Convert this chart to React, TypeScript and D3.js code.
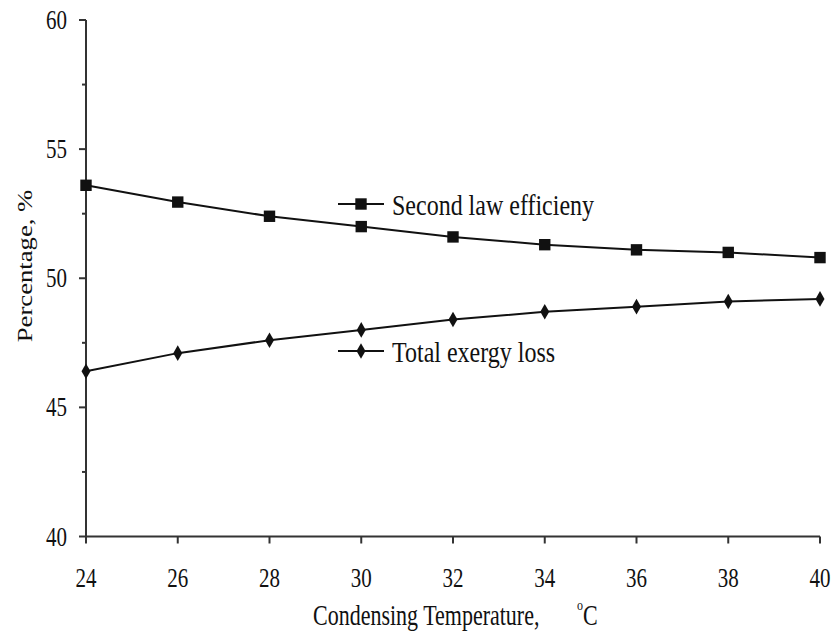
import React, { useEffect, useRef } from 'react';
import * as d3 from 'd3';

const temps = [24, 26, 28, 30, 32, 34, 36, 38, 40];
const secondLaw = [53.6, 52.95, 52.4, 52.0, 51.6, 51.3, 51.1, 51.0, 50.8];
const exergyLoss = [46.4, 47.1, 47.6, 48.0, 48.4, 48.7, 48.9, 49.1, 49.2];
const xTicks = [24, 26, 28, 30, 32, 34, 36, 38, 40];
const yTicks = [40, 45, 50, 55, 60];
const yMinorTicks = [42.5, 47.5, 52.5, 57.5];

const App: React.FC = () => {
    const svgRef = useRef<SVGSVGElement>(null);

    useEffect(() => {
        if (!svgRef.current) return;
        const svg = d3.select(svgRef.current);
        svg.selectAll('*').remove();

        const font = '"Liberation Serif", "Times New Roman", serif';
        const ink = '#111';
        const stretch = 1.3; // the scanned text is taller than it is wide

        // text helper: placed at baseline (tx, ty), stretched vertically
        const label = (tx: number, ty: number, str: string, size: number, anchor = 'start', sy = stretch) =>
            svg.append('text')
                .attr('transform', `translate(${tx}, ${ty}) scale(1, ${sy})`)
                .attr('text-anchor', anchor)
                .attr('font-family', font).attr('font-size', `${size}px`)
                .attr('fill', ink)
                .text(str);

        const x = d3.scaleLinear().domain([24, 40]).range([86, 820]);
        const y = d3.scaleLinear().domain([40, 60]).range([536.5, 20]);

        // axes
        svg.append('line')
            .attr('x1', x(24)).attr('x2', x(24))
            .attr('y1', y(40)).attr('y2', y(60))
            .attr('stroke', '#333').attr('stroke-width', 2);
        svg.append('line')
            .attr('x1', x(24)).attr('x2', x(40))
            .attr('y1', y(40)).attr('y2', y(40))
            .attr('stroke', '#333').attr('stroke-width', 2);

        // y ticks
        yTicks.forEach(t => {
            svg.append('line')
                .attr('x1', x(24) - 7).attr('x2', x(24))
                .attr('y1', y(t)).attr('y2', y(t))
                .attr('stroke', '#333').attr('stroke-width', 2);
            label(67, y(t) + 9, String(t), 21, 'end');
        });
        yMinorTicks.forEach(t => {
            svg.append('line')
                .attr('x1', x(24) - 4).attr('x2', x(24))
                .attr('y1', y(t)).attr('y2', y(t))
                .attr('stroke', '#333').attr('stroke-width', 2);
        });

        // x ticks
        xTicks.forEach(t => {
            svg.append('line')
                .attr('x1', x(t)).attr('x2', x(t))
                .attr('y1', y(40)).attr('y2', y(40) + 7)
                .attr('stroke', '#333').attr('stroke-width', 2);
            label(x(t), 587, String(t), 21, 'middle');
        });

        // axis titles
        label(313, 625, 'Condensing Temperature,', 22);
        label(577, 610, 'o', 12);
        label(583, 625, 'C', 22);

        svg.append('text')
            .attr('transform', `translate(32, 266) rotate(-90) scale(1.27, 1)`)
            .attr('text-anchor', 'middle')
            .attr('font-family', font).attr('font-size', '21px')
            .attr('fill', ink)
            .text('Percentage, %');

        const line = d3.line<number>()
            .x((_, i) => x(temps[i]))
            .y(d => y(d));

        const square = d3.symbol().type(d3.symbolSquare).size(130);
        const diamond = d3.symbol().type(d3.symbolDiamond).size(70);

        // series
        svg.append('path')
            .attr('d', line(secondLaw) as string)
            .attr('fill', 'none').attr('stroke', ink).attr('stroke-width', 2);
        svg.selectAll('.sq')
            .data(secondLaw)
            .enter().append('path')
            .attr('d', square() as string)
            .attr('transform', (d, i) => `translate(${x(temps[i])}, ${y(d)})`)
            .attr('fill', ink);

        svg.append('path')
            .attr('d', line(exergyLoss) as string)
            .attr('fill', 'none').attr('stroke', ink).attr('stroke-width', 2);
        svg.selectAll('.dm')
            .data(exergyLoss)
            .enter().append('path')
            .attr('d', diamond() as string)
            .attr('transform', (d, i) => `translate(${x(temps[i])}, ${y(d)})`)
            .attr('fill', ink);

        // legends
        const legends = [
            { label: 'Second law efficieny', ly: 204, sym: square },
            { label: 'Total exergy loss', ly: 351, sym: diamond },
        ];
        legends.forEach(l => {
            svg.append('line')
                .attr('x1', 338).attr('x2', 384)
                .attr('y1', l.ly).attr('y2', l.ly)
                .attr('stroke', ink).attr('stroke-width', 2);
            svg.append('path')
                .attr('d', l.sym() as string)
                .attr('transform', `translate(361, ${l.ly})`)
                .attr('fill', ink);
            label(392, l.ly + 11, l.label, 24, 'start', 1.25);
        });
    }, []);

    return (
        <svg ref={svgRef} width="836" height="631"
            style={{ position: 'absolute', left: 0, top: 0, background: '#fff' }}></svg>
    );
};

export default App;
